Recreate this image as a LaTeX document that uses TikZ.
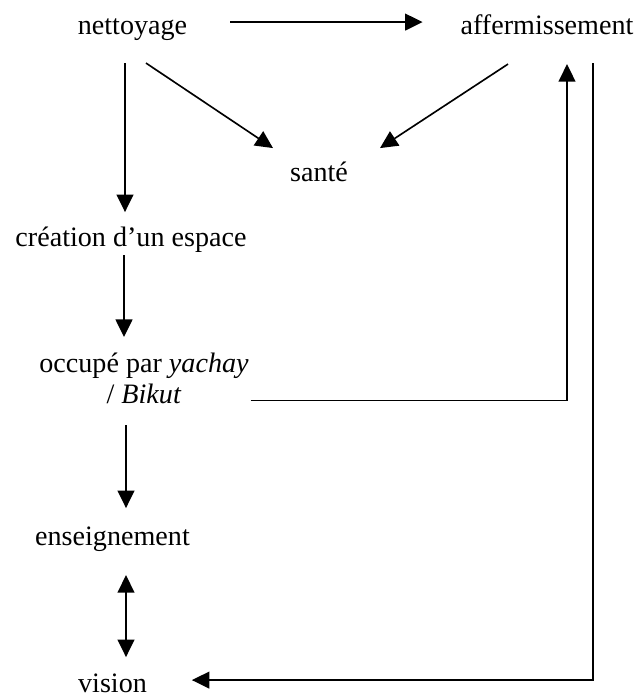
\documentclass[tikz,border=0pt]{standalone}
\usepackage{fontspec}
\setmainfont{Liberation Serif}
\usetikzlibrary{arrows.meta,calc}
\tikzset{
  lbl/.style={inner sep=0, outer sep=0, anchor=base, text height=8.5pt, text depth=2.6pt, font=\fontsize{12}{13.3}\selectfont},
  arr/.style={line width=0.7pt, ->},
  >={Triangle[length=7.5pt,width=7.2pt]}
}
\begin{document}
\begin{tikzpicture}[x=0.015cm,y=-0.015cm]
\useasboundingbox (0,0) rectangle (636,696);
\node[lbl] (nett) at (132.5,35){nettoyage};
\node[lbl] (aff) at (547,35){affermissement};
\node[lbl] (sante) at (319,182){santé};
\node[lbl] (crea) at (131,247){création d’un espace};
\node[inner sep=0, outer sep=0, anchor=north, align=center, font=\fontsize{12}{13.3}\selectfont] (occ) at (144,353){occupé par \textit{yachay}\\ / \textit{Bikut}};
\node[lbl] (ens) at (112.5,545){enseignement};
\node[lbl] (vis) at (112.5,692){vision};
\draw[arr] ($(nett.east)+(43,-6)$) -- ($(aff.west)+(-38,-6)$);
\draw[arr] ($(nett.south)+(13.5,22)$) -- ($(sante.north)+(-46,-14)$);
\draw[arr] ($(aff.south)+(-39,23)$) -- ($(sante.north)+(61,-14)$);
\draw[arr] ($(nett.south)+(-7.5,22)$) -- ($(crea.north)+(-6,-15)$);
\draw[arr] ($(crea.south)+(-7,2)$) -- ($(occ.north)+(-20,-16)$);
\draw[arr] ($(occ.south)+(-18,21)$) -- ($(ens.north)+(13.5,-17)$);
\draw[arr, <->] ($(ens.south)+(13.5,24)$) -- ($(vis.north)+(13.5,-15)$);
\draw[arr] ($(occ.east)+(2,22)$) -| ($(aff.south)+(20,23)$);
\draw[arr] ($(aff.south)+(46,22)$) |- ($(vis.east)+(45,-5)$);
\end{tikzpicture}
\end{document}
